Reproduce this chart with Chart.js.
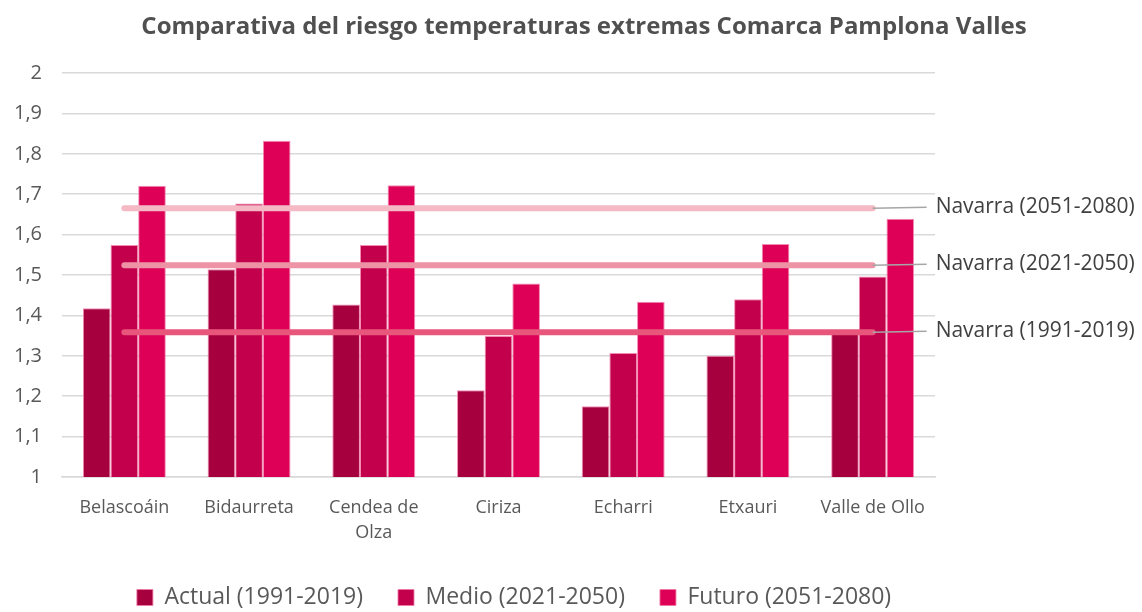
<!DOCTYPE html>
<html>
<head>
<meta charset="utf-8">
<script src="https://cdn.jsdelivr.net/npm/chart.js@4"></script>
<style>
  html, body { margin: 0; padding: 0; background: #fff; }
</style>
</head>
<body>
<canvas id="riesgoChart" width="1142" height="612"></canvas>
<script>
// Municipios de la comarca y riesgo por periodo
const municipios = ['Belascoáin', 'Bidaurreta', ['Cendea de', 'Olza'], 'Ciriza', 'Echarri', 'Etxauri', 'Valle de Ollo'];
const actual = [1.418, 1.514, 1.427, 1.215, 1.175, 1.300, 1.356];
const medio = [1.574, 1.677, 1.574, 1.349, 1.307, 1.440, 1.496];
const futuro = [1.721, 1.832, 1.722, 1.479, 1.434, 1.577, 1.639];

// Valores de referencia de Navarra
const navarraNombres = ['Navarra (1991-2019)', 'Navarra (2021-2050)', 'Navarra (2051-2080)'];
const navarraValores = [1.358, 1.524, 1.665];
const navarraColores = ['#e8577b', '#ee93a6', '#f4b9c5'];

const titulo = 'Comparativa del riesgo temperaturas extremas Comarca Pamplona Valles';
const fuente = '"Open Sans", "Noto Sans", sans-serif';

// título centrado sobre todo el lienzo
const tituloGrafico = {
    id: 'tituloGrafico',
    afterDraw(chart) {
        const { ctx } = chart;
        ctx.save();
        ctx.fillStyle = '#505050';
        ctx.font = 'bold 24px ' + fuente;
        ctx.textAlign = 'center';
        ctx.textBaseline = 'middle';
        ctx.fillText(titulo, 584, 27);
        ctx.restore();
    }
};

// etiquetas a la derecha de las líneas de Navarra
const etiquetasNavarra = {
    id: 'etiquetasNavarra',
    afterDatasetsDraw(chart) {
        const { ctx, scales: { x, y } } = chart;
        const xFin = x.getPixelForValue(municipios.length - 1);
        ctx.save();
        navarraValores.forEach((v, i) => {
            const py = y.getPixelForValue(v);
            ctx.strokeStyle = '#a6a6a6';
            ctx.lineWidth = 1.5;
            ctx.beginPath();
            ctx.moveTo(xFin, py);
            ctx.lineTo(xFin + 54, py - 1);
            ctx.stroke();
            ctx.fillStyle = '#404040';
            ctx.font = '21px ' + fuente;
            ctx.textBaseline = 'middle';
            ctx.fillText(navarraNombres[i], xFin + 63, py - 1);
        });
        ctx.restore();
    }
};

const lineasNavarra = navarraValores.map((v, i) => ({
    type: 'line',
    label: navarraNombres[i],
    data: municipios.map(() => v),
    borderColor: navarraColores[i],
    borderWidth: 6,
    borderCapStyle: 'round',
    pointRadius: 0,
    fill: false,
    order: 0
}));

const borde = 'rgba(240,120,165,0.85)';

const ctx = document.getElementById('riesgoChart').getContext('2d');
const riesgoChart = new Chart(ctx, {
    type: 'bar',
    data: {
        labels: municipios,
        datasets: [
            { label: 'Actual (1991-2019)', data: actual, backgroundColor: '#a6003e', borderColor: borde, borderWidth: 1, order: 1 },
            { label: 'Medio (2021-2050)', data: medio, backgroundColor: '#c3004c', borderColor: borde, borderWidth: 1, order: 1 },
            { label: 'Futuro (2051-2080)', data: futuro, backgroundColor: '#dd0056', borderColor: borde, borderWidth: 1, order: 1 },
            ...lineasNavarra
        ]
    },
    options: {
        responsive: false,
        animation: false,
        layout: { padding: { left: 0, right: 114, top: 73, bottom: -7 } },
        datasets: {
            bar: { barPercentage: 1, categoryPercentage: 0.665 }
        },
        plugins: {
            title: { display: false },
            legend: {
                position: 'bottom',
                labels: {
                    filter: item => item.datasetIndex < 3,
                    boxWidth: 16,
                    boxHeight: 16,
                    color: '#595959',
                    font: { family: fuente, size: 23 },
                    padding: 35
                }
            },
            tooltip: { enabled: false }
        },
        scales: {
            x: {
                grid: { display: false, drawTicks: false },
                border: { color: '#d9d9d9', width: 1.5 },
                ticks: {
                    color: '#595959',
                    font: { family: fuente, size: 18, lineHeight: 1.4 },
                    padding: 18,
                    maxRotation: 0,
                    autoSkip: false
                },
                afterFit: scale => { scale.height = 74; }
            },
            y: {
                min: 1,
                max: 2,
                grid: { color: '#d9d9d9', lineWidth: 1.5, drawTicks: false },
                border: { display: false },
                ticks: {
                    stepSize: 0.1,
                    color: '#595959',
                    font: { family: fuente, size: 20 },
                    padding: 20,
                    callback: function (value) {
                        return String(Number(value.toFixed(1))).replace('.', ',');
                    }
                },
                afterFit: scale => { scale.width = 62; }
            },
            // espacio a la derecha para las etiquetas de Navarra
            margenDerecho: {
                position: 'right',
                grid: { display: false, drawTicks: false },
                border: { display: false },
                ticks: { display: false },
                afterFit: scale => { scale.width = 93; }
            }
        }
    },
    plugins: [etiquetasNavarra, tituloGrafico]
});
</script>
</body>
</html>
